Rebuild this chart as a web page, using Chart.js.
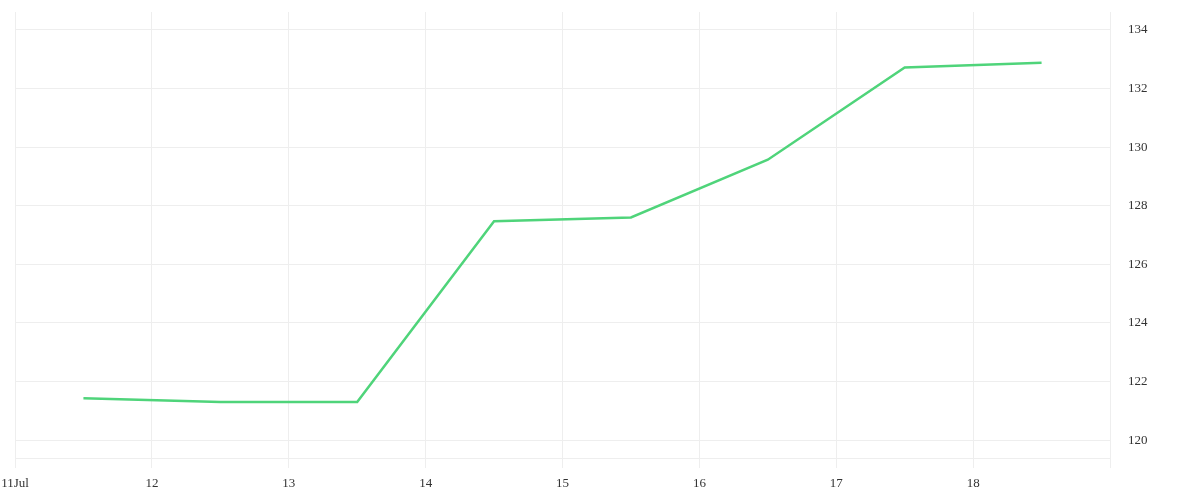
<!DOCTYPE html>
<html>
<head>
<meta charset="utf-8">
<script src="https://cdn.jsdelivr.net/npm/chart.js@4"></script>
<style>
  html, body { margin: 0; padding: 0; background: #fff; }
  #wrap { width: 1200px; height: 500px; }
</style>
</head>
<body>
<div id="wrap"><canvas id="priceChart"></canvas></div>
<script>
// day of July (noon of each day)
const days = [11.5, 12.5, 13.5, 14.5, 15.5, 16.5, 17.5, 18.5];
const prices = [121.43, 121.3, 121.3, 127.47, 127.6, 129.57, 132.72, 132.88];
const yTicks = [120, 122, 124, 126, 128, 130, 132, 134];

const points = days.map((d, i) => ({ x: d, y: prices[i] }));

const ctx = document.getElementById("priceChart").getContext("2d");
new Chart(ctx, {
  type: "line",
  data: {
    datasets: [
      {
        data: points,
        borderColor: "#4fd47a",
        borderWidth: 2.5,
        pointRadius: 0,
        tension: 0,
        fill: false,
      },
    ],
  },
  options: {
    responsive: true,
    maintainAspectRatio: false,
    animation: false,
    layout: { padding: { left: 15, top: 12, right: 0, bottom: 0 } },
    plugins: {
      legend: { display: false },
      tooltip: { enabled: false },
    },
    scales: {
      x: {
        type: "linear",
        min: 11,
        max: 19,
        border: { display: false },
        grid: { color: "#eeeeee", tickLength: 10 },
        ticks: {
          stepSize: 1,
          padding: 8,
          maxRotation: 0,
          color: "#333",
          font: { family: "Liberation Serif", size: 13 },
          callback: (v) => (v === 11 ? "11Jul" : v === 19 ? "" : String(v)),
        },
        afterFit: (scale) => {
          scale.height = 42;
          scale.paddingLeft = 0;
          scale.paddingRight = 0;
        },
      },
      y: {
        type: "linear",
        position: "right",
        min: 119.39,
        max: 134.61,
        border: { display: false },
        grid: { color: "#eeeeee", drawTicks: false },
        ticks: {
          padding: 18,
          color: "#333",
          font: { family: "Liberation Serif", size: 13 },
        },
        afterBuildTicks: (scale) => {
          scale.ticks = [{ value: 119.39 }].concat(yTicks.map((v) => ({ value: v })));
        },
        afterTickToLabelConversion: (scale) => {
          scale.ticks[0].label = "";
        },
        afterFit: (scale) => {
          scale.width = 90;
          scale.paddingTop = 0;
          scale.paddingBottom = 0;
        },
      },
    },
  },
});
</script>
</body>
</html>
